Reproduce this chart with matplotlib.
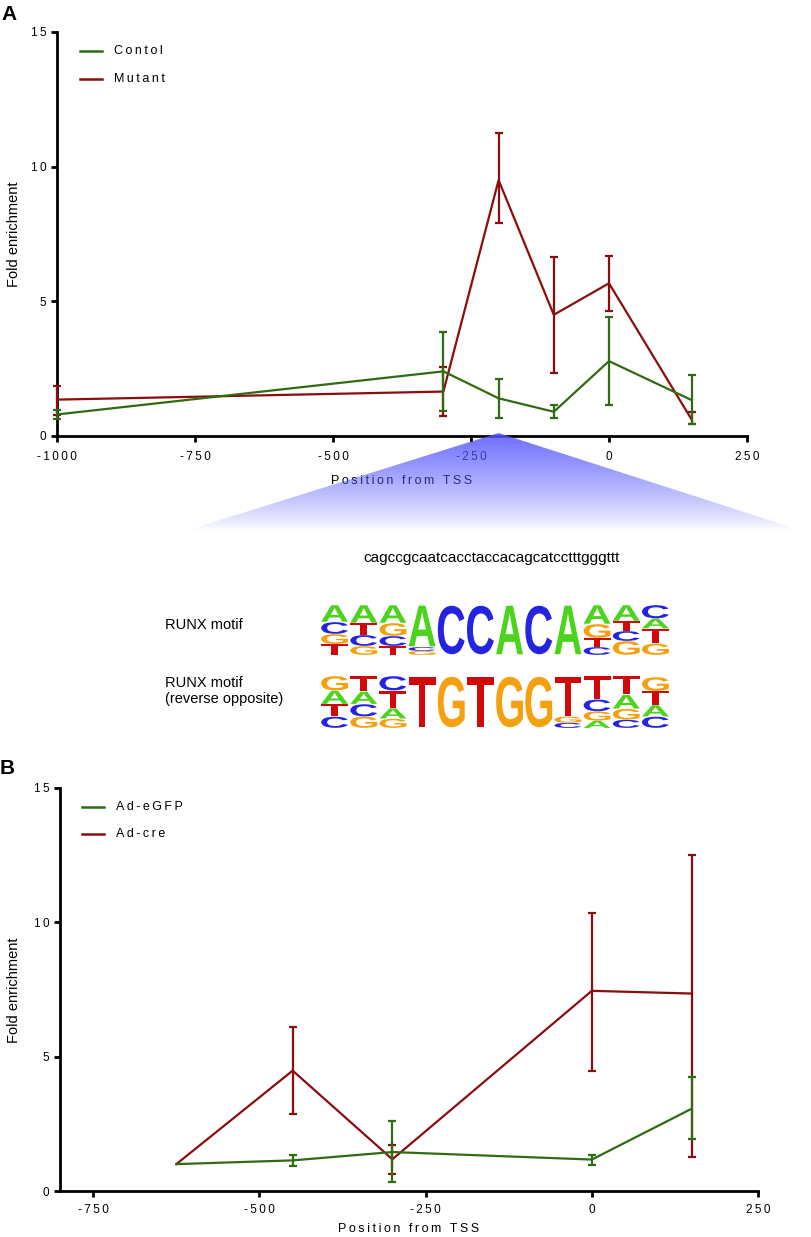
import numpy as np
import matplotlib
matplotlib.use("Agg")
import matplotlib.pyplot as plt
from matplotlib.textpath import TextPath
from matplotlib.patches import PathPatch, Polygon
from matplotlib.font_manager import FontProperties
from matplotlib.transforms import Affine2D
from matplotlib.lines import Line2D

plt.rcParams['font.family'] = ['Liberation Sans', 'DejaVu Sans']

# ---------------- data ----------------
# Panel A
a_x = [-1000, -300, -200, -100, 0, 150]
a_ctrl = [0.80, 2.40, 1.40, 0.90, 2.78, 1.33]
a_ctrl_lo = [0.64, 0.93, 0.66, 0.66, 1.15, 0.45]
a_ctrl_hi = [0.98, 3.85, 2.12, 1.15, 4.41, 2.26]
a_mut = [1.35, 1.65, 9.50, 4.50, 5.67, 0.60]
a_mut_lo = [0.78, 0.74, 7.90, 2.33, 4.65, 0.45]
a_mut_hi = [1.86, 2.55, 11.26, 6.66, 6.68, 0.88]
a_labels = ["Contol", "Mutant"]
a_xticks = [-1000, -750, -500, -250, 0, 250]

# Panel B
b_x = [-625, -450, -300, 0, 150]
b_gfp = [1.0, 1.14, 1.45, 1.17, 3.06]
b_gfp_lo = [np.nan, 0.92, 0.34, 0.98, 1.95]
b_gfp_hi = [np.nan, 1.35, 2.62, 1.35, 4.23]
b_cre = [1.0, 4.48, 1.18, 7.45, 7.35]
b_cre_lo = [np.nan, 2.87, 0.62, 4.48, 1.26]
b_cre_hi = [np.nan, 6.12, 1.70, 10.36, 12.5]
b_labels = ["Ad-eGFP", "Ad-cre"]
b_xticks = [-750, -500, -250, 0, 250]

yticks = [0, 5, 10, 15]
region_center = -200
sequence = "cagccgcaatcacctaccacagcatcctttgggttt"

# Sequence logos (top-to-bottom letters per column, with relative heights)
logo1_letters = ["ACGT", "ATCG", "AGCT", "ACG", "C", "C", "A", "C", "A", "AGTC", "ATCG", "CATG"]
logo1_heights = [[.34, .24, .20, .22], [.36, .24, .22, .18], [.36, .26, .20, .18],
                 [.84, .08, .08], [1.0], [1.0], [1.0], [1.0], [1.0],
                 [.38, .28, .18, .16], [.32, .20, .20, .28], [.27, .20, .30, .23]]
logo2_letters = ["GATC", "TACG", "CTAG", "T", "G", "T", "G", "G", "TGC", "TCGA", "TAGC", "GTAC"]
logo2_heights = [[.28, .26, .24, .22], [.30, .24, .24, .22], [.28, .34, .20, .18],
                 [1.0], [1.0], [1.0], [1.0], [1.0], [.78, .12, .10],
                 [.45, .23, .18, .14], [.36, .27, .21, .16], [.27, .27, .22, .22]]
logo_colors = {"A": "#4cd41c", "C": "#2424e0", "G": "#f5a00f", "T": "#d00a0a"}

GREEN = "#2f6b12"
RED = "#8b0d0d"

# ---------------- helpers ----------------
W, H = 812, 1237
fig = plt.figure(figsize=(W / 100, H / 100), dpi=100)


def fx(x):
    return x / W


def fy(y):
    return 1 - y / H


def spaced(s):
    return "\u2009".join(list(s))


def add_axes_px(l, t, r, b):
    return fig.add_axes([fx(l), fy(b), fx(r) - fx(l), fy(t) - fy(b)])


def style(ax, xlim, xticks, xpad, labelpad):
    ax.set_xlim(xlim)
    ax.set_ylim(0, 15)
    for s in ["top", "right"]:
        ax.spines[s].set_visible(False)
    for s in ["left", "bottom"]:
        ax.spines[s].set_linewidth(2.0)
    ax.set_xticks(xticks)
    ax.set_xticklabels([spaced(str(t)) for t in xticks])
    ax.set_yticks(yticks)
    ax.set_yticklabels([spaced(str(t)) for t in yticks])
    ax.tick_params(direction="out", length=4.5, width=2.0, labelsize=8.5, pad=3)
    ax.tick_params(axis="x", pad=xpad)
    ax.set_xlabel(spaced("Position from TSS"), fontsize=9, labelpad=labelpad)


def draw_series(ax, x, y, lo, hi, color):
    x = np.asarray(x, float)
    y = np.asarray(y, float)
    lo = np.asarray(lo, float)
    hi = np.asarray(hi, float)
    ax.plot(x, y, color=color, lw=1.6, clip_on=False, zorder=3)
    m = ~np.isnan(lo)
    ax.errorbar(x[m], y[m], yerr=[y[m] - lo[m], hi[m] - y[m]], fmt="none",
                ecolor=color, elinewidth=1.6, capsize=3, capthick=1.6,
                clip_on=False, zorder=3)


def legend_px(entries, x0, x1, xt, ys):
    for (lab, col), yy in zip(entries, ys):
        fig.add_artist(Line2D([fx(x0), fx(x1)], [fy(yy), fy(yy)], color=col, lw=1.8,
                              transform=fig.transFigure))
        fig.text(fx(xt), fy(yy), spaced(lab), fontsize=9, va="center", ha="left")


# ---------------- Panel A ----------------
axA = add_axes_px(57, 32, 747, 436)
draw_series(axA, a_x, a_mut, a_mut_lo, a_mut_hi, RED)
draw_series(axA, a_x, a_ctrl, a_ctrl_lo, a_ctrl_hi, GREEN)
style(axA, (-1000, 250), a_xticks, 6, 9)
legend_px([(a_labels[0], GREEN), (a_labels[1], RED)], 80, 102, 114, [51, 79])
fig.text(fx(14), fy(234), "Fold enrichment", rotation=90, fontsize=10.5, va="center", ha="center")
fig.text(fx(1), fy(15), "A", fontsize=15, fontweight="bold", va="center", ha="left")

# ---------------- Panel B ----------------
axB = add_axes_px(60, 788, 758, 1191)
draw_series(axB, b_x, b_cre, b_cre_lo, b_cre_hi, RED)
draw_series(axB, b_x, b_gfp, b_gfp_lo, b_gfp_hi, GREEN)
style(axB, (-800, 250), b_xticks, 5, 5)
legend_px([(b_labels[0], GREEN), (b_labels[1], RED)], 82, 104, 116, [807, 834])
fig.text(fx(14), fy(990), "Fold enrichment", rotation=90, fontsize=10.5, va="center", ha="center")
fig.text(fx(0), fy(769), "B", fontsize=15, fontweight="bold", va="center", ha="left")

# ---------------- middle section ----------------
fig.text(fx(492), fy(558), sequence, fontsize=11, va="center", ha="center")
fig.text(fx(165), fy(625), "RUNX motif", fontsize=10.5, va="center", ha="left")
fig.text(fx(165), fy(691), "RUNX motif\n(reverse opposite)", fontsize=10.5, va="center",
         ha="left", linespacing=1.25)

fp = FontProperties(family="Liberation Sans", weight="bold")


def draw_logo(l, t, r, b, letters, heights):
    ax = add_axes_px(l, t, r, b)
    ax.set_xlim(0, len(letters))
    ax.set_ylim(0, 1)
    ax.axis("off")
    for i, (col, hs) in enumerate(zip(letters, heights)):
        y0 = 0.0
        for ch, h in reversed(list(zip(col, hs))):
            tp = TextPath((0, 0), ch, size=1, prop=fp)
            bb = tp.get_extents()
            tr = Affine2D().translate(-bb.x0, -bb.y0).scale(0.92 / bb.width, h * 0.97 / bb.height) \
                .translate(i + 0.04, y0 + h * 0.015)
            ax.add_patch(PathPatch(tr.transform_path(tp), facecolor=logo_colors[ch],
                                   edgecolor="none"))
            y0 += h


draw_logo(320, 605, 670, 655, logo1_letters, logo1_heights)
draw_logo(320, 676, 670, 728, logo2_letters, logo2_heights)

# ---------------- zoom wedge ----------------
ov = fig.add_axes([0, 0, 1, 1], zorder=10)
ov.axis("off")
apex_px = axA.transData.transform((region_center, 0))
apex_x = apex_px[0]
apex_y = H - apex_px[1]
top_y, bot_y = apex_y - 3, 530
n = 200
grad = np.zeros((n, 1, 4))
grad[:, 0, 0] = 0.33
grad[:, 0, 1] = 0.33
grad[:, 0, 2] = 1.0
grad[:, 0, 3] = 0.85 * (1 - np.linspace(0, 1, n)) ** 0.8
img = ov.imshow(grad, extent=(188, 800, bot_y, top_y), origin="upper", aspect="auto",
                interpolation="bilinear")
tri = Polygon([[apex_x, top_y], [188, bot_y], [800, bot_y]], closed=True,
              transform=ov.transData, facecolor="none", edgecolor="none")
ov.add_patch(tri)
img.set_clip_path(tri)
ov.set_xlim(0, W)
ov.set_ylim(H, 0)

fig.savefig("out.png", dpi=100)
